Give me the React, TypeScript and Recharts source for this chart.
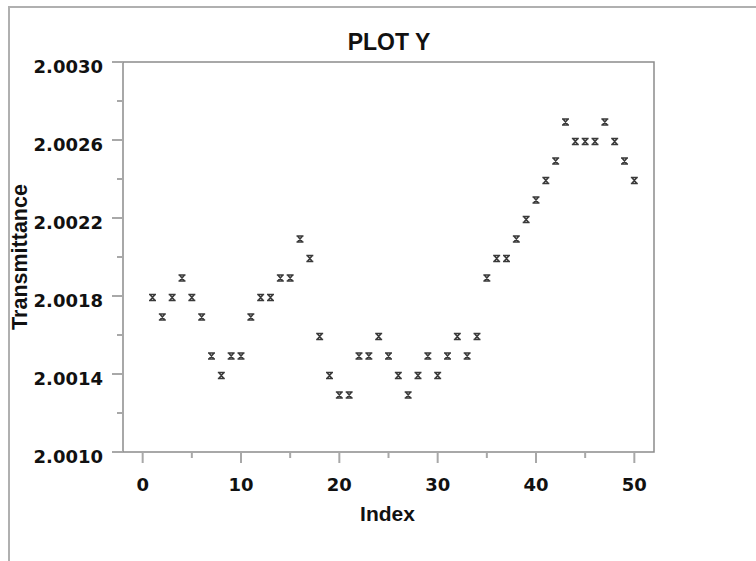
import React from 'react';
import { ScatterChart, Scatter, XAxis, YAxis, ReferenceArea } from 'recharts';

// observation index and measured transmittance
const index = [
  1, 2, 3, 4, 5, 6, 7, 8, 9, 10,
  11, 12, 13, 14, 15, 16, 17, 18, 19, 20,
  21, 22, 23, 24, 25, 26, 27, 28, 29, 30,
  31, 32, 33, 34, 35, 36, 37, 38, 39, 40,
  41, 42, 43, 44, 45, 46, 47, 48, 49, 50,
];
const transmittance = [
  2.0018, 2.0017, 2.0018, 2.0019, 2.0018, 2.0017, 2.0015, 2.0014, 2.0015, 2.0015,
  2.0017, 2.0018, 2.0018, 2.0019, 2.0019, 2.0021, 2.0020, 2.0016, 2.0014, 2.0013,
  2.0013, 2.0015, 2.0015, 2.0016, 2.0015, 2.0014, 2.0013, 2.0014, 2.0015, 2.0014,
  2.0015, 2.0016, 2.0015, 2.0016, 2.0019, 2.0020, 2.0020, 2.0021, 2.0022, 2.0023,
  2.0024, 2.0025, 2.0027, 2.0026, 2.0026, 2.0026, 2.0027, 2.0026, 2.0025, 2.0024,
];

const yTicks = [2.0010, 2.0012, 2.0014, 2.0016, 2.0018, 2.0020, 2.0022, 2.0024, 2.0026, 2.0028, 2.0030];
const yLabelled = [2.0010, 2.0014, 2.0018, 2.0022, 2.0026, 2.0030];
const xTicks = [0, 5, 10, 15, 20, 25, 30, 35, 40, 45, 50];
const xLabelled = [0, 10, 20, 30, 40, 50];

const points = index.map((x, i) => ({ x, y: transmittance[i] }));

const labelFont = "'Liberation Sans', Arial, Helvetica, sans-serif";
const tickFont = "'DejaVu Sans', Verdana, sans-serif";
const tickColor = '#a8a8a8';
const frameColor = '#8c8c8c';

const isIn = (list: number[], v: number) => list.some((m) => Math.abs(m - v) < 1e-9);

const YTick = (props: any) => {
  const { x, y, payload } = props;
  const v = payload.value;
  const major = isIn(yLabelled, v);
  const axisX = x + 11;
  return (
    <g>
      <line x1={axisX - (major ? 11 : 6)} x2={axisX} y1={y} y2={y} stroke={tickColor} strokeWidth={2} />
      {major && (
        <text x={axisX - 20} y={y + 11} textAnchor="end" fontFamily={tickFont} fontWeight="bold" fontSize={18} fill="#111">
          {v.toFixed(4)}
        </text>
      )}
    </g>
  );
};

const XTick = (props: any) => {
  const { x, y, payload } = props;
  const v = payload.value;
  const major = isIn(xLabelled, v);
  const axisY = y - 11;
  return (
    <g>
      <line x1={x} x2={x} y1={axisY} y2={axisY + (major ? 11 : 6)} stroke={tickColor} strokeWidth={2} />
      {major && (
        <text x={x} y={axisY + 38.5} textAnchor="middle" fontFamily={tickFont} fontWeight="bold" fontSize={18} fill="#111">
          {v}
        </text>
      )}
    </g>
  );
};

const XMark = (props: any) => {
  const { cx, cy } = props;
  const y = cy + 1.5;
  const d =
    `M${cx - 3.5},${y - 3} h7 M${cx - 3.5},${y + 3} h7 ` +
    `M${cx - 2.5},${y - 3} L${cx + 2.5},${y + 3} M${cx + 2.5},${y - 3} L${cx - 2.5},${y + 3}`;
  return <path d={d} stroke="#3a3a3a" strokeWidth={1.6} fill="none" />;
};

export default function App() {
  return (
    <div style={{ position: 'absolute', left: 0, top: 0, width: 756, height: 561, background: '#fff' }}>
      <div style={{ position: 'absolute', left: 8, top: 6, width: 748, height: 2, background: '#b0b0b0' }} />
      <div style={{ position: 'absolute', left: 8, top: 6, width: 2, height: 555, background: '#b0b0b0' }} />
      <div style={{ position: 'absolute', left: 0, top: 0 }}>
        <ScatterChart width={756} height={561} margin={{ top: 62, right: 102, bottom: 49, left: 13 }}>
          <XAxis
            type="number"
            dataKey="x"
            domain={[-2, 52]}
            ticks={xTicks}
            interval={0}
            axisLine={false}
            tickLine={false}
            tickSize={11}
            tickMargin={0}
            height={60}
            tick={<XTick />}
          />
          <YAxis
            type="number"
            dataKey="y"
            domain={[2.001, 2.003]}
            ticks={yTicks}
            interval={0}
            axisLine={false}
            tickLine={false}
            tickSize={11}
            tickMargin={0}
            width={110}
            tick={<YTick />}
          />
          <ReferenceArea x1={-2} x2={52} y1={2.001} y2={2.003} fill="none" stroke={frameColor} strokeWidth={1.5} />
          <Scatter data={points} shape={<XMark />} isAnimationActive={false} />
          <text x={389} y={49.5} textAnchor="middle" fontFamily={labelFont} fontWeight="bold" fontSize={23} fill="#111">
            PLOT Y
          </text>
          <text x={387.5} y={521} textAnchor="middle" fontFamily={labelFont} fontWeight="bold" fontSize={21} fill="#111">
            Index
          </text>
          <text
            x={20}
            y={257}
            transform="rotate(-90 20 257)"
            textAnchor="middle"
            dominantBaseline="central"
            fontFamily={labelFont}
            fontWeight="bold"
            fontSize={21.5}
            fill="#111"
          >
            Transmittance
          </text>
        </ScatterChart>
      </div>
    </div>
  );
}
